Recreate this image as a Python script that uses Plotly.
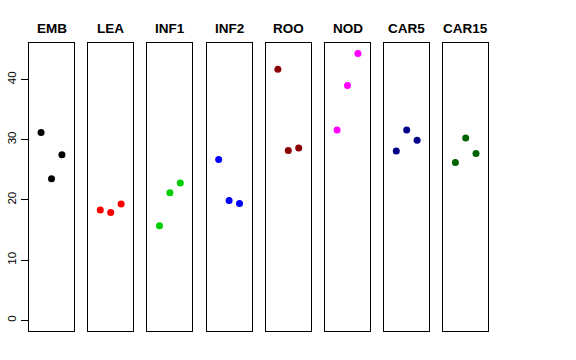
import plotly.graph_objects as go

categories = ["EMB", "LEA", "INF1", "INF2", "ROO", "NOD", "CAR5", "CAR15"]
colors = ["#000000", "#FF0000", "#00CD00", "#0000FF", "#8B0000", "#FF00FF", "#00008B", "#006400"]
x_positions = [1, 2, 3]
values = {
    "EMB": [31.2, 23.5, 27.5],
    "LEA": [18.3, 17.9, 19.3],
    "INF1": [15.7, 21.2, 22.8],
    "INF2": [26.7, 19.9, 19.4],
    "ROO": [41.7, 28.2, 28.6],
    "NOD": [31.6, 39.0, 44.3],
    "CAR5": [28.1, 31.6, 29.9],
    "CAR15": [26.2, 30.3, 27.7],
}
y_ticks = [0, 10, 20, 30, 40]

W, H = 576, 360
ml, mr, mt, mb = 29, 88, 43, 29
pw = W - ml - mr
ph = H - mt - mb
panel_w = 45
step = 59.2

fig = go.Figure()
layout = dict(
    width=W, height=H,
    margin=dict(l=ml, r=mr, t=mt, b=mb, autoexpand=False),
    plot_bgcolor="white", paper_bgcolor="white",
    showlegend=False,
    font=dict(family="Liberation Sans, Arial, sans-serif", color="black"),
)
annotations = []
for i, cat in enumerate(categories):
    n = "" if i == 0 else str(i + 1)
    x0 = (i * step) / pw
    x1 = (i * step + panel_w) / pw
    fig.add_trace(go.Scatter(
        x=x_positions, y=values[cat], mode="markers",
        marker=dict(color=colors[i], size=7),
        xaxis="x" + n, yaxis="y" + n,
    ))
    layout["xaxis" + n] = dict(
        domain=[x0, min(x1, 1)], range=[-0.16, 4.16], anchor="y" + n,
        showgrid=False, zeroline=False, showticklabels=False, ticks="",
        showline=True, mirror=True, linecolor="black", linewidth=1,
        automargin=False,
    )
    ya = dict(
        range=[-1.78, 46.06], anchor="x" + n,
        showgrid=False, zeroline=False, automargin=False,
        showline=True, mirror=True, linecolor="black", linewidth=1,
    )
    if i == 0:
        ya.update(tickvals=y_ticks, ticks="outside", ticklen=7, tickcolor="black",
                  tickangle=-90, tickfont=dict(size=11.5, color="black"))
    else:
        ya.update(showticklabels=False, ticks="", matches="y")
    layout["yaxis" + n] = ya
    annotations.append(dict(
        text="<b>" + cat + "</b>", x=(x0 + x1) / 2, y=1 + 14 / ph,
        xref="paper", yref="paper", xanchor="center", yanchor="middle",
        showarrow=False, font=dict(size=13.5, color="black"),
    ))
layout["annotations"] = annotations
fig.update_layout(**layout)
fig.write_html("out.html", config={"displayModeBar": False},
               post_script="document.body.style.margin='0';")
